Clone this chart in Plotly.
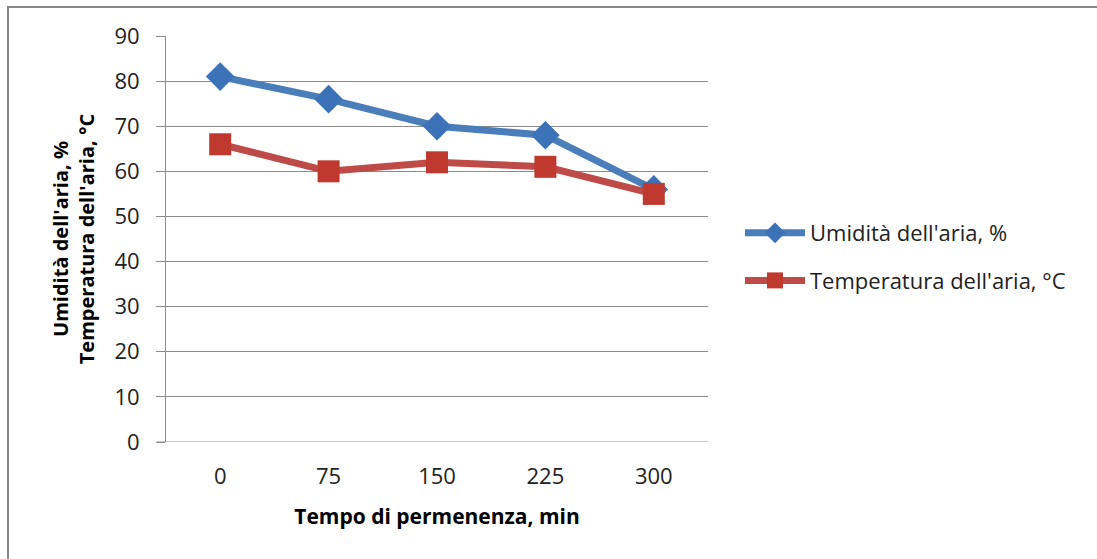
import plotly.graph_objects as go

categories = ["0", "75", "150", "225", "300"]
umidita = [81, 76, 70, 68, 56]
temperatura = [66, 60, 62, 61, 55]
y_ticks = [0, 10, 20, 30, 40, 50, 60, 70, 80, 90]

W, H = 1097, 559
L, R, T, B = 166, 389, 36, 117
pw = W - L - R
ph = H - T - B

FONT = "'Open Sans', Lato, sans-serif"
grid = "#8c8c8c"

fig = go.Figure()
fig.add_trace(go.Scatter(
    x=categories, y=umidita, mode="lines+markers",
    name="Umidità dell'aria, %", legendgroup="a",
    line=dict(color="#4A7EBB", width=7),
    marker=dict(symbol="diamond", size=22, color="#3B72B8",
                line=dict(width=0)),
))
fig.add_trace(go.Scatter(
    x=categories, y=temperatura, mode="lines+markers",
    name="Temperatura dell'aria, °C", legendgroup="b",
    line=dict(color="#BE4B48", width=7),
    marker=dict(symbol="square", size=22, color="#C0392F",
                line=dict(width=0)),
))

fig.update_layout(
    width=W, height=H,
    margin=dict(l=L, r=R, t=T, b=B),
    paper_bgcolor="white", plot_bgcolor="white",
    font=dict(family=FONT, size=20, color="#000000"),
    showlegend=True,
    legend=dict(
        x=(740 - L) / pw, y=(442 - 212) / ph, xanchor="left", yanchor="top",
        font=dict(size=22, color="#222222"),
        traceorder="grouped", tracegroupgap=16, itemwidth=60,
        bgcolor="rgba(0,0,0,0)",
    ),
    xaxis=dict(
        type="category", range=[-0.5, 4.5],
        showgrid=False, showline=False, zeroline=False,
        ticks="", tickfont=dict(size=22, color="#222222"),
        ticklabelstandoff=19,
        title=dict(text="<b>Tempo di permenenza, min</b>",
                   font=dict(size=21, color="#000000"), standoff=20),
    ),
    yaxis=dict(
        range=[0, 90], tickvals=y_ticks,
        showgrid=True, gridcolor=grid, gridwidth=1,
        showline=True, linecolor=grid, linewidth=1,
        zeroline=False,
        ticks="outside", ticklen=9, tickcolor=grid,
        tickfont=dict(size=22, color="#222222"),
        ticklabelstandoff=12,
        title=dict(text="<b>Umidità dell'aria, %<br>Temperatura dell'aria, °C</b>",
                   font=dict(size=20, color="#000000"), standoff=14),
    ),
    shapes=[
        dict(type="rect", xref="paper", yref="paper",
             x0=(8 - L) / pw, x1=(1200 - L) / pw,
             y0=(442 - 700) / ph, y1=(442 - 7) / ph,
             line=dict(color="#868686", width=2), layer="below"),
        dict(type="line", xref="paper", yref="y",
             x0=-9 / pw, x1=1, y0=0, y1=0,
             line=dict(color=grid, width=1)),
    ],
)

fig.write_html("out.html")
